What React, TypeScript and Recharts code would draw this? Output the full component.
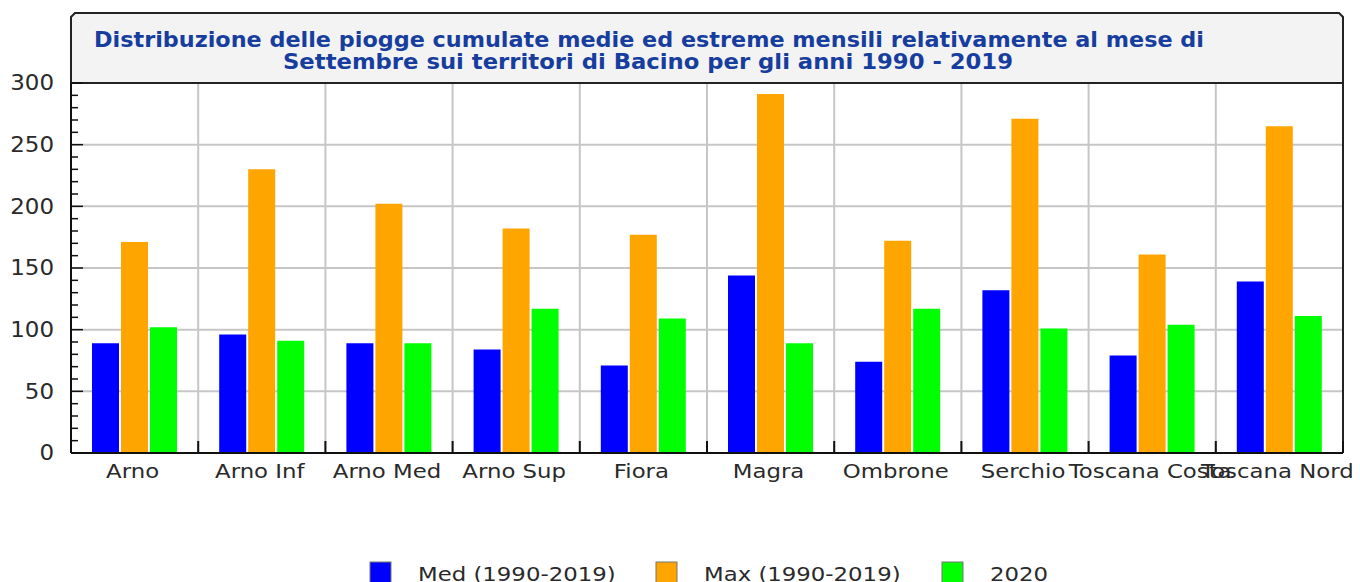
import React from 'react';
import { BarChart, Bar, XAxis, YAxis, CartesianGrid, Customized } from 'recharts';

const CATEGORIES = ['Arno', 'Arno Inf', 'Arno Med', 'Arno Sup', 'Fiora', 'Magra', 'Ombrone', 'Serchio', 'Toscana Costa', 'Toscana Nord'];
const MED = [89, 96, 89, 84, 71, 144, 74, 132, 79, 139];
const MAX = [171, 230, 202, 182, 177, 291, 172, 271, 161, 265];
const Y2020 = [102, 91, 89, 117, 109, 89, 117, 101, 104, 111];

const SERIES_KEYS = ['med', 'max', 'y2020'];
const SERIES_NAMES = ['Med (1990-2019)', 'Max (1990-2019)', '2020'];
const SERIES_COLORS = ['#0000ff', '#ffa500', '#00ff00'];

const Y_MAJOR = [0, 50, 100, 150, 200, 250, 300];
const Y_TICKS = [0, 10, 20, 30, 40, 50, 60, 70, 80, 90, 100, 110, 120, 130, 140, 150, 160, 170, 180, 190, 200, 210, 220, 230, 240, 250, 260, 270, 280, 290, 300];
const GRID_VALUES = [50, 100, 150, 200, 250];

const TITLE_LINES = [
  'Distribuzione delle piogge cumulate medie ed estreme mensili relativamente al mese di',
  'Settembre sui territori di Bacino per gli anni 1990 - 2019',
];

const data = CATEGORIES.map((cat, i) => ({ cat, med: MED[i], max: MAX[i], y2020: Y2020[i] }));

const W = 1352;
const H = 574;
const PLOT_LEFT = 63;
const PLOT_TOP = 75;
const PLOT_W = 1272;
const PLOT_H = 370;
const BAND = PLOT_W / CATEGORIES.length;
const SX = 1.17;
const FONT = '"DejaVu Sans", Verdana, sans-serif';
const TEXT_COLOR = '#2a2a2a';

const XTick = (props: any) => {
  const { x, y, payload } = props;
  return (
    <g>
      <line x1={x + BAND / 2} x2={x + BAND / 2} y1={y - 12} y2={y} stroke="#111" strokeWidth={2} />
      <g transform={`translate(${x - 2},${y + 25})`}>
        <text transform={`scale(${SX},1)`} textAnchor="middle" fontSize={19.5} fontFamily={FONT} fill={TEXT_COLOR}>
          {payload.value}
        </text>
      </g>
    </g>
  );
};

const YTick = (props: any) => {
  const { x, y, payload } = props;
  const major = Y_MAJOR.includes(payload.value);
  return (
    <g>
      <line x1={x} x2={x + (major ? 12 : 7)} y1={y} y2={y} stroke="#111" strokeWidth={1.5} />
      {major && (
        <g transform={`translate(${x - 17},${y})`}>
          <text transform={`scale(1.12,1)`} textAnchor="end" dy="0.36em" fontSize={20.5} fontFamily={FONT} fill={TEXT_COLOR}>
            {payload.value}
          </text>
        </g>
      )}
    </g>
  );
};

const Frame = () => {
  const L = PLOT_LEFT;
  const R = PLOT_LEFT + PLOT_W;
  const T = 5;
  return (
    <g>
      <path
        d={`M${L},${PLOT_TOP} L${L},${T + 4} L${L + 4},${T} L${R - 4},${T} L${R},${T + 4} L${R},${PLOT_TOP} Z`}
        fill="#f3f3f3"
        stroke="#222"
        strokeWidth={2}
      />
      <line x1={R} x2={R} y1={PLOT_TOP} y2={PLOT_TOP + PLOT_H} stroke="#222" strokeWidth={2} />
      <text x={641} y={39} textAnchor="middle" fontSize={20.5} fontWeight="bold" fontFamily={FONT} fill="#173e9e" textLength={1110} lengthAdjust="spacingAndGlyphs">
        {TITLE_LINES[0]}
      </text>
      <text x={640} y={61} textAnchor="middle" fontSize={20.5} fontWeight="bold" fontFamily={FONT} fill="#173e9e" textLength={730} lengthAdjust="spacingAndGlyphs">
        {TITLE_LINES[1]}
      </text>
      {SERIES_NAMES.map((name, i) => {
        const x0 = 362 + i * 286;
        return (
          <g key={name}>
            <rect x={x0} y={554} width={21} height={21} fill={SERIES_COLORS[i]} stroke="#777" strokeWidth={1} />
            <g transform={`translate(${x0 + 48},${573})`}>
              <text transform={`scale(${SX},1)`} fontSize={19.5} fontFamily={FONT} fill={TEXT_COLOR}>
                {name}
              </text>
            </g>
          </g>
        );
      })}
    </g>
  );
};

const verticalGen = ({ offset }: any) =>
  CATEGORIES.slice(1).map((_, i) => offset.left + ((i + 1) * offset.width) / CATEGORIES.length);

export default function App() {
  return (
    <div style={{ width: W, height: H, overflow: 'hidden', background: '#fff' }}>
      <BarChart
        width={W}
        height={H}
        data={data}
        margin={{ top: PLOT_TOP, right: W - PLOT_LEFT - PLOT_W, bottom: H - PLOT_TOP - PLOT_H - 30, left: 0 }}
        barSize={27}
        barGap={2}
      >
        <CartesianGrid
          stroke="#c6c6c6"
          strokeWidth={2}
          horizontalValues={GRID_VALUES}
          verticalCoordinatesGenerator={verticalGen}
        />
        <XAxis
          dataKey="cat"
          interval={0}
          tickLine={false}
          tickSize={0}
          tickMargin={0}
          height={30}
          axisLine={{ stroke: '#111', strokeWidth: 2 }}
          tick={<XTick />}
        />
        <YAxis
          domain={[0, 300]}
          ticks={Y_TICKS}
          interval={0}
          width={PLOT_LEFT}
          tickLine={false}
          tickSize={0}
          tickMargin={0}
          axisLine={{ stroke: '#111', strokeWidth: 2 }}
          tick={<YTick />}
        />
        {SERIES_KEYS.map((k, i) => (
          <Bar key={k} dataKey={k} name={SERIES_NAMES[i]} fill={SERIES_COLORS[i]} isAnimationActive={false} />
        ))}
        <Customized component={Frame} />
      </BarChart>
    </div>
  );
}
